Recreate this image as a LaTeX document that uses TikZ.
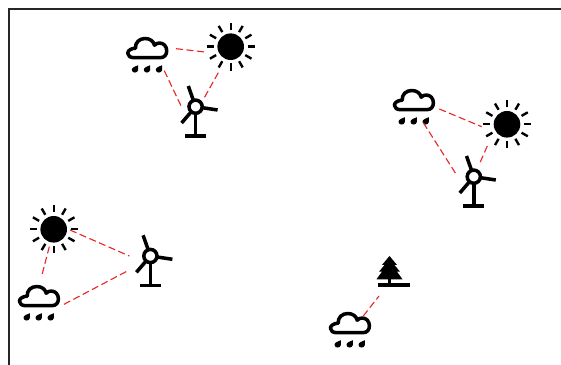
\documentclass[tikz,border=0pt]{standalone}
\usepackage{xcolor}
\usetikzlibrary{arrows.meta,positioning}

\definecolor{linkred}{RGB}{232,40,36}

\tikzset{
  spot/.style={inner sep=0pt, minimum size=0pt},
  link/.style={linkred, line width=0.8pt, dash pattern=on 5pt off 2.5pt},
  bar/.style={line width=2.5pt},
  sunicon/.pic={
    \fill[black] (0,0) circle (13.3);
    \foreach \a in {0,30,...,330}
      \draw[line width=1.7pt] (\a:16.8) -- (\a:24);
  },
  cloudicon/.pic={
    \draw[bar, line join=round] (-13,5.7) -- (13,5.7)
      .. controls (17.5,5.7) and (19.7,2.8) .. (19.7,-1.2)
      .. controls (19.7,-5.8) and (16.5,-9) .. (12.5,-9)
      .. controls (10.5,-9) and (9,-8.2) .. (7.5,-6.8)
      .. controls (6.5,-10.8) and (3,-13.5) .. (-2,-13.5)
      .. controls (-7.5,-13.5) and (-12,-9.5) .. (-11.5,-3.8)
      .. controls (-15.5,-3.8) and (-19.3,-1.5) .. (-19.3,1.3)
      .. controls (-19.3,4) and (-16.5,5.7) .. (-13,5.7) -- cycle;
    % Rain drops
    \foreach \x in {-12,0,12}
      \fill[black] (\x+3.2,13.2) .. controls (\x+3.4,15) and (\x+3.6,16.5) .. (\x+3.2,18)
        .. controls (\x+2.6,21.4) and (\x-2.9,21.4) .. (\x-3.2,18)
        .. controls (\x-3.4,15.6) and (\x+0.2,14.2) .. (\x+3.2,13.2) -- cycle;
  },
  turbineicon/.pic={
    \draw[bar] (0,6) -- (0,29.3);
    \draw[bar] (-10.5,29.3) -- (10.5,29.3);
    % Blades
    \draw[bar] (0,0) -- (-7.3,-20.7);
    \draw[bar] (0,0) -- (22,3.3);
    \draw[bar] (0,0) -- (-14,16.3);
    \draw[bar, fill=white] (0,0) circle (6.6);
  },
  treeicon/.pic={
    \fill[black] (0,-15) -- (7.5,-6) -- (5,-6) -- (10.5,0.7) -- (7.5,0.7)
      -- (13,8.3) -- (-13,8.3) -- (-7.5,0.7) -- (-10.5,0.7) -- (-5,-6) -- (-7.5,-6) -- cycle;
    \draw[bar] (0,8) -- (0,14);
    \draw[bar] (-12,14) -- (20,14);
  },
}

\begin{document}
\begin{tikzpicture}[x=0.025cm, y=-0.025cm]
  \useasboundingbox (0,0) rectangle (561,365);

  % Frame
  \draw[line width=0.8pt, black!85] (9,365) |- (561,9);

  % Top group
  \node[spot] (cloudA) at (147,52) {};
  \node[spot] (sunA) at (230.7,46.7) {};
  \node[spot] (turbineA) at (195.6,106.7) {};
  \pic at (cloudA) {cloudicon};
  \pic at (sunA) {sunicon};
  \pic at (turbineA) {turbineicon};
  \draw[link] ([shift={(29,-3.3)}]cloudA.center) -- ([shift={(-25.7,5.3)}]sunA.center);
  \draw[link] ([shift={(17.3,18.7)}]cloudA.center) -- ([shift={(-13.9,0.6)}]turbineA.center);
  \draw[link] ([shift={(-12.4,26)}]sunA.center) -- ([shift={(8.4,-8.4)}]turbineA.center);

  % Right group
  \node[spot] (cloudB) at (413.7,104) {};
  \node[spot] (sunB) at (507,124.3) {};
  \node[spot] (turbineB) at (473.8,176.7) {};
  \pic at (cloudB) {cloudicon};
  \pic at (sunB) {sunicon};
  \pic at (turbineB) {turbineicon};
  \draw[link] ([shift={(25.6,5)}]cloudB.center) -- ([shift={(-25.3,2.4)}]sunB.center);
  \draw[link] ([shift={(9.6,18.7)}]cloudB.center) -- ([shift={(-17.8,-2.7)}]turbineB.center);
  \draw[link] ([shift={(-19.7,21.7)}]sunB.center) -- ([shift={(6.2,-14)}]turbineB.center);

  % Left group
  \node[spot] (sunC) at (53.7,229.3) {};
  \node[spot] (cloudC) at (38.7,300) {};
  \node[spot] (turbineC) at (150.4,256) {};
  \pic at (sunC) {sunicon};
  \pic at (cloudC) {cloudicon};
  \pic at (turbineC) {turbineicon};
  \draw[link] ([shift={(16.3,0.7)}]sunC.center) -- ([shift={(-21.1,0)}]turbineC.center);
  \draw[link] ([shift={(25.3,4.3)}]cloudC.center) -- ([shift={(-21.1,14)}]turbineC.center);
  \draw[link] ([shift={(-4.4,17.4)}]sunC.center) -- ([shift={(3,-24)}]cloudC.center);

  % Tree and cloud
  \node[spot] (treeD) at (389.5,271) {};
  \node[spot] (cloudD) at (349.7,327) {};
  \pic at (treeD) {treeicon};
  \pic at (cloudD) {cloudicon};
  \draw[link] ([shift={(13.6,-11)}]cloudD.center) -- ([shift={(-10.5,25)}]treeD.center);
\end{tikzpicture}
\end{document}
